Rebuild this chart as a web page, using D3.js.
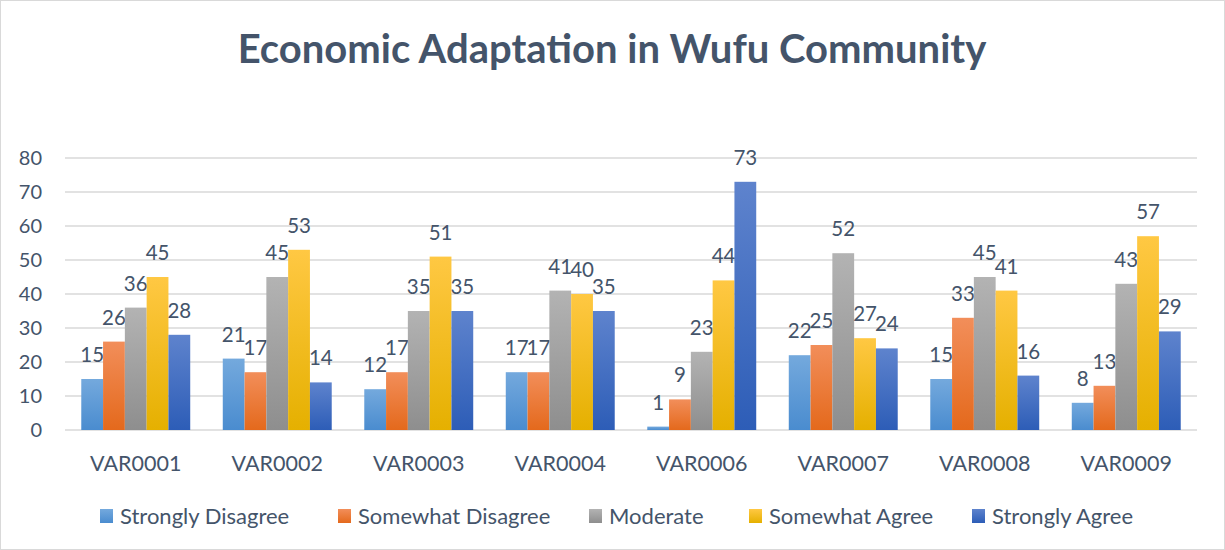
<!DOCTYPE html>
<html>
<head>
<meta charset="utf-8">
<script src="https://cdn.jsdelivr.net/npm/d3@7"></script>
<style>
  body { margin: 0; background: #fff; }
  svg text { font-family: Lato, "Noto Sans", sans-serif; fill: #44546a; }
</style>
</head>
<body>
<svg id="chart" width="1225" height="550"></svg>
<script>
var categories = ['VAR0001', 'VAR0002', 'VAR0003', 'VAR0004', 'VAR0006', 'VAR0007', 'VAR0008', 'VAR0009'];
var seriesNames = ['Strongly Disagree', 'Somewhat Disagree', 'Moderate', 'Somewhat Agree', 'Strongly Agree'];
var stronglyDisagree = [15, 21, 12, 17, 1, 22, 15, 8];
var somewhatDisagree = [26, 17, 17, 17, 9, 25, 33, 13];
var moderate = [36, 45, 35, 41, 23, 52, 45, 43];
var somewhatAgree = [45, 53, 51, 40, 44, 27, 41, 57];
var stronglyAgree = [28, 14, 35, 35, 73, 24, 16, 29];
var yTicks = [0, 10, 20, 30, 40, 50, 60, 70, 80];

var seriesValues = [stronglyDisagree, somewhatDisagree, moderate, somewhatAgree, stronglyAgree];
// top / bottom colours of each bar gradient
var colors = [
  ['#74a9dd', '#4a8ccf'],
  ['#f28e5a', '#e4691c'],
  ['#b3b3b3', '#8e8e8e'],
  ['#ffc843', '#e5b000'],
  ['#5e83cd', '#2d5db7']
];

var svg = d3.select('#chart');

svg.append('rect')
  .attr('x', 0.5).attr('y', 0.5)
  .attr('width', 1224).attr('height', 549)
  .attr('fill', '#fff')
  .attr('stroke', '#d9d9d9');

var defs = svg.append('defs');
colors.forEach(function(c, i) {
  var g = defs.append('linearGradient')
    .attr('id', 'grad' + i)
    .attr('x1', 0).attr('y1', 0).attr('x2', 0).attr('y2', 1);
  g.append('stop').attr('offset', '0%').attr('stop-color', c[0]);
  g.append('stop').attr('offset', '100%').attr('stop-color', c[1]);
});

svg.append('text')
  .attr('x', 612).attr('y', 63)
  .attr('text-anchor', 'middle')
  .attr('font-size', '40px')
  .attr('font-weight', 'bold')
  .text('Economic Adaptation in Wufu Community');

var plotLeft = 65, plotRight = 1197, plotTop = 158, plotBottom = 430;

var x0 = d3.scaleBand().domain(categories).range([plotLeft, plotRight]).paddingInner(0.23).paddingOuter(0.115);
var x1 = d3.scaleBand().domain(d3.range(seriesNames.length)).range([0, x0.bandwidth()]);
var y = d3.scaleLinear().domain([0, 80]).range([plotBottom, plotTop]);

// gridlines
svg.append('g')
  .selectAll('line')
  .data(yTicks)
  .enter().append('line')
  .attr('x1', plotLeft).attr('x2', plotRight)
  .attr('y1', function(d) { return y(d); })
  .attr('y2', function(d) { return y(d); })
  .attr('stroke', '#d9d9d9')
  .attr('stroke-width', 1.5);

// y axis labels
svg.append('g')
  .selectAll('text')
  .data(yTicks)
  .enter().append('text')
  .attr('x', 42)
  .attr('y', function(d) { return y(d); })
  .attr('dy', '0.35em')
  .attr('text-anchor', 'end')
  .attr('font-size', '20px')
  .text(function(d) { return d; });

var groups = svg.append('g')
  .selectAll('g')
  .data(categories)
  .enter().append('g')
  .attr('transform', function(d) { return 'translate(' + x0(d) + ',0)'; });

var cells = groups.selectAll('g.cell')
  .data(function(d, ci) {
    return seriesValues.map(function(vals, si) { return {s: si, v: vals[ci]}; });
  })
  .enter().append('g').attr('class', 'cell');

cells.append('rect')
  .attr('x', function(d) { return x1(d.s); })
  .attr('y', function(d) { return y(d.v); })
  .attr('width', x1.bandwidth())
  .attr('height', function(d) { return y(0) - y(d.v); })
  .attr('fill', function(d) { return 'url(#grad' + d.s + ')'; });

cells.append('text')
  .attr('x', function(d) { return x1(d.s) + x1.bandwidth() / 2; })
  .attr('y', function(d) { return y(d.v) - 17; })
  .attr('text-anchor', 'middle')
  .attr('font-size', '20.5px')
  .text(function(d) { return d.v; });

// category labels
svg.append('g')
  .selectAll('text')
  .data(categories)
  .enter().append('text')
  .attr('x', function(d) { return x0(d) + x0.bandwidth() / 2; })
  .attr('y', 463)
  .attr('dy', '0.35em')
  .attr('text-anchor', 'middle')
  .attr('font-size', '21.5px')
  .text(function(d) { return d; });

// legend
var legendX = [100, 338, 589, 749, 972];
var legend = svg.append('g')
  .selectAll('g')
  .data(seriesNames)
  .enter().append('g')
  .attr('transform', function(d, i) { return 'translate(' + legendX[i] + ',509)'; });

legend.append('rect')
  .attr('width', 13).attr('height', 14)
  .attr('fill', function(d, i) { return 'url(#grad' + i + ')'; });

legend.append('text')
  .attr('x', 20).attr('y', 7)
  .attr('dy', '0.35em')
  .attr('font-size', '22px')
  .text(function(d) { return d; });
</script>
</body>
</html>
